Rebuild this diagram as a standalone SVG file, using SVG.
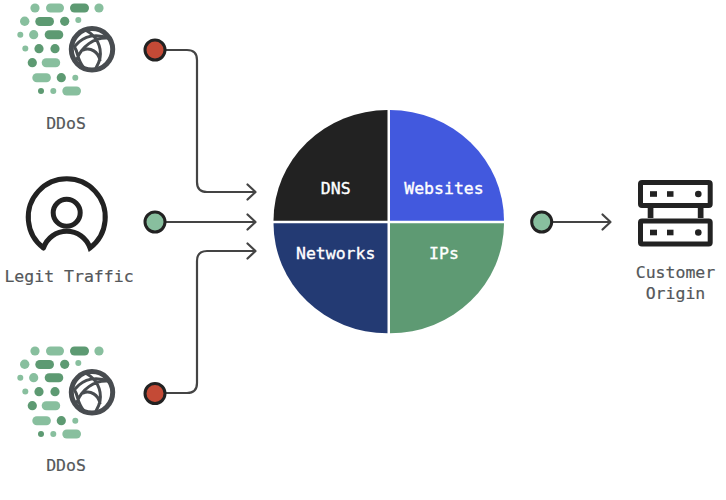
<svg xmlns="http://www.w3.org/2000/svg" width="726" height="500" viewBox="0 0 726 500">
<style>
text{font-family:"DejaVu Sans Mono","Liberation Mono",monospace;font-size:16.5px;text-anchor:middle}
.lab{fill:#54575a;stroke:#54575a;stroke-width:.2}
.pie{fill:#fff;stroke:#fff;stroke-width:.35}
.l{fill:#88bf9e}
.d{fill:#5d9a72}
.ln{fill:none;stroke:#444;stroke-width:2.2;stroke-linecap:round;stroke-linejoin:round}
.red{fill:#c44a36;stroke:#222;stroke-width:3}
.grn{fill:#88bf9e;stroke:#222;stroke-width:3}
.ic{fill:none;stroke:#222;stroke-width:5;stroke-linecap:round}
.srv{fill:#222}
</style>
<defs>
<g id="cluster">
<circle class="l" cx="35" cy="8" r="4.6"/><rect class="l" x="46" y="3.500" width="18" height="9" rx="4.500"/><rect class="d" x="70" y="3.500" width="19" height="9" rx="4.500"/><circle class="l" cx="99" cy="8" r="4.600"/>
<circle class="l" cx="24.700" cy="21.300" r="4.700"/><rect class="d" x="35.300" y="17" width="18.700" height="9" rx="4.500"/><circle class="d" cx="64.700" cy="21.300" r="4.600"/><circle class="l" cx="78.300" cy="20" r="3"/>
<circle class="l" cx="20.300" cy="34.700" r="3"/><circle class="l" cx="33.700" cy="34.700" r="4.600"/><rect class="d" x="44.700" y="30.200" width="18.600" height="9" rx="4.500"/>
<circle class="l" cx="25.300" cy="48.500" r="3"/><circle class="d" cx="39" cy="48.700" r="4.600"/><circle class="d" cx="55" cy="48.700" r="4.600"/>
<circle class="d" cx="32.300" cy="62.700" r="4.600"/><rect class="l" x="41.700" y="58.200" width="18.500" height="9" rx="4.500"/>
<rect class="l" x="32.300" y="73.200" width="18.600" height="9" rx="4.500"/><circle class="d" cx="61.300" cy="77.700" r="4.600"/><circle class="l" cx="75.300" cy="77.700" r="3"/>
<circle class="d" cx="41" cy="91" r="3"/><circle class="l" cx="53.300" cy="91" r="3"/><rect class="l" x="62.300" y="86.500" width="18.700" height="9" rx="4.500"/>
<g fill="none" stroke="#484c50" stroke-linecap="round">
<circle cx="92" cy="49.300" r="20.700" stroke-width="5"/>
<path stroke-width="3" d="M75 46C84 35 97 33 110 39M77 59C82 46 94 38 106 38M87 31C96 36 102 46 100 58C99 63 97 66 96 68M84 68C77 60 78 52 75 48M83 50C91 47 98 52 100 60"/>
</g>
</g>
</defs>

<g id="connectors">
<path class="ln" d="M165 50H187Q197 50 197 60V182Q197 192 207 192H255M247.500 184.500L255.500 192L247.500 199.500"/>
<path class="ln" d="M165 222H255M247.500 214.500L255.500 222L247.500 229.500"/>
<path class="ln" d="M165 393H187Q197 393 197 383V261Q197 251 207 251H255M247.500 243.500L255.500 251L247.500 258.500"/>
<path class="ln" d="M552 222H610M602.500 214.500L610.500 222L602.500 229.500"/>
</g>

<g id="ddos-top">
<use href="#cluster"/>
<text class="lab" x="66" y="129">DDoS</text>
</g>
<g id="legit-traffic">
<path class="ic" d="M43.500 248A38.500 38.500 0 1 1 90 248A24.500 24.500 0 0 0 43.500 248"/>
<circle class="ic" cx="66.700" cy="212.700" r="13.500"/>
<text class="lab" x="69" y="281.500">Legit Traffic</text>
</g>
<g id="ddos-bottom">
<use href="#cluster" y="343"/>
<text class="lab" x="66" y="471">DDoS</text>
</g>

<g id="dot-1"><circle class="red" cx="155" cy="50" r="10"/></g>
<g id="dot-2"><circle class="grn" cx="155" cy="222" r="10"/></g>
<g id="dot-3"><circle class="red" cx="155" cy="393.500" r="10"/></g>
<g id="dot-4"><circle class="grn" cx="541.700" cy="222" r="10"/></g>

<g id="dns">
<path fill="#222" d="M387.500 110V220.700H273.500A114 110.700 0 0 1 387.500 110Z"/>
<text class="pie" x="335.700" y="194">DNS</text>
</g>
<g id="websites">
<path fill="#4259de" d="M390 110V220.700H504A114 110.700 0 0 0 390 110Z"/>
<text class="pie" x="444" y="194">Websites</text>
</g>
<g id="networks">
<path fill="#233a73" d="M387.500 333.300V223.300H273.500A114 110 0 0 0 387.500 333.300Z"/>
<text class="pie" x="335.700" y="259">Networks</text>
</g>
<g id="ips">
<path fill="#5e9a73" d="M390 333.300V223.300H504A114 110 0 0 1 390 333.300Z"/>
<text class="pie" x="444" y="259">IPs</text>
</g>

<g id="customer-origin">
<rect x="640.500" y="182.500" width="69.700" height="23" rx="1.500" fill="none" stroke="#222" stroke-width="5"/>
<rect x="640.500" y="221" width="69.700" height="23" rx="1.500" fill="none" stroke="#222" stroke-width="5"/>
<rect class="srv" x="647.700" y="207" width="5.700" height="11"/><rect class="srv" x="697.800" y="207" width="5.700" height="11"/>
<rect class="srv" x="650" y="191.200" width="7" height="5.600"/><rect class="srv" x="667" y="191.200" width="6.500" height="5.600"/><circle class="srv" cx="698.300" cy="194" r="3.300"/>
<rect class="srv" x="650" y="229.700" width="7" height="5.600"/><rect class="srv" x="667" y="229.700" width="6.500" height="5.600"/><circle class="srv" cx="698.300" cy="232.500" r="3.300"/>
<text class="lab" x="675.500" y="277.700">Customer</text>
<text class="lab" x="675.500" y="299">Origin</text>
</g>
</svg>
